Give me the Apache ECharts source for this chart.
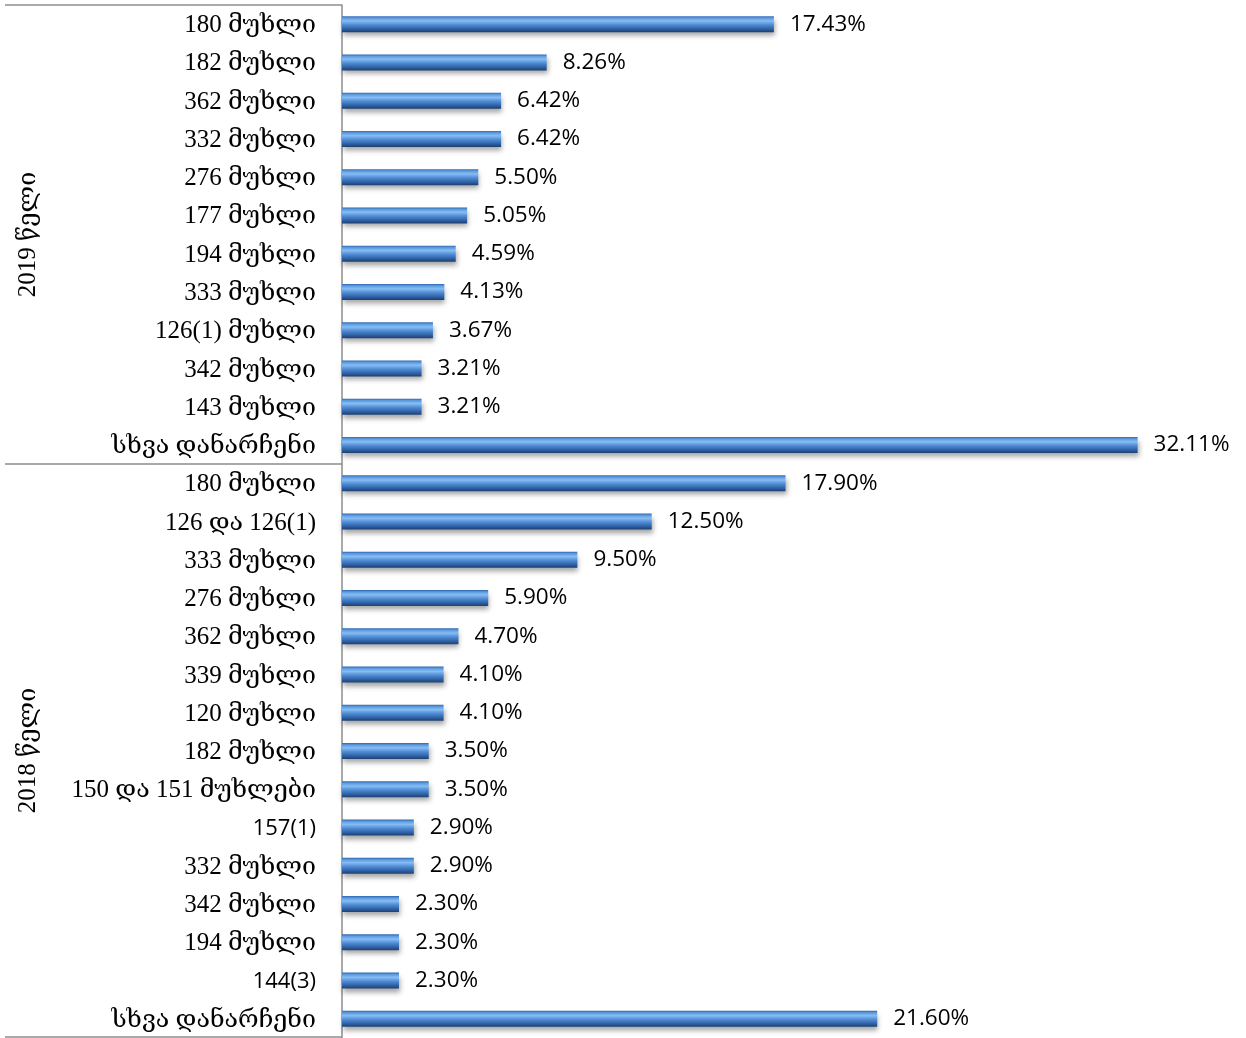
<!DOCTYPE html>
<html>
<head>
<meta charset="utf-8">
<script src="https://cdn.jsdelivr.net/npm/echarts@6/dist/echarts.min.js"></script>
<style>html,body{margin:0;padding:0;background:#fff}#c{width:1246px;height:1038px}</style>
</head>
<body>
<div id="c"></div>
<script>
const groupNames = ['2019 წელი', '2018 წელი'];
const labels2019 = ['180 მუხლი','182 მუხლი','362 მუხლი','332 მუხლი','276 მუხლი','177 მუხლი','194 მუხლი','333 მუხლი','126(1) მუხლი','342 მუხლი','143 მუხლი','სხვა დანარჩენი'];
const values2019 = [17.43, 8.26, 6.42, 6.42, 5.50, 5.05, 4.59, 4.13, 3.67, 3.21, 3.21, 32.11];
const labels2018 = ['180 მუხლი','126 და 126(1)','333 მუხლი','276 მუხლი','362 მუხლი','339 მუხლი','120 მუხლი','182 მუხლი','150 და 151 მუხლები','157(1)','332 მუხლი','342 მუხლი','194 მუხლი','144(3)','სხვა დანარჩენი'];
const values2018 = [17.90, 12.50, 9.50, 5.90, 4.70, 4.10, 4.10, 3.50, 3.50, 2.90, 2.90, 2.30, 2.30, 2.30, 21.60];

const allLabels = labels2019.concat(labels2018);
const allValues = values2019.concat(values2018);
const keys = allLabels.map((l, i) => i + '|' + l);

const serif = "'Liberation Serif', 'DejaVu Serif', serif";
const sans = "'Open Sans', 'Noto Sans', sans-serif";

const chart = echarts.init(document.getElementById('c'));
const barColor = new echarts.graphic.LinearGradient(0, 0, 0, 1, [
  {offset: 0, color: '#2f67b0'},
  {offset: 0.12, color: '#5d9be0'},
  {offset: 0.3, color: '#86bdf3'},
  {offset: 0.55, color: '#4f8ad3'},
  {offset: 0.8, color: '#2f62a6'},
  {offset: 1, color: '#1d3f70'}
]);
chart.setOption({
  animation: false,
  grid: {left: 342, right: 12, top: 5, height: 1034, containLabel: false},
  xAxis: {type: 'value', min: 0, max: 36, show: false},
  yAxis: {
    type: 'category', inverse: true, data: keys,
    axisLine: {show: true, lineStyle: {color: '#8c8c8c', width: 1.5}},
    axisTick: {show: false},
    axisLabel: {
      margin: 26, interval: 0,
      formatter: v => {
        const t = v.slice(v.indexOf('|') + 1);
        return /[\u10A0-\u10FF]/.test(t) ? '{s|' + t + '}' : '{n|' + t + '}';
      },
      rich: {
        s: {fontFamily: serif, fontSize: 25, color: '#000', padding: [3, 0, 0, 0]},
        n: {fontFamily: sans, fontSize: 22, color: '#000', padding: [3, 0, 0, 0]}
      }
    }
  },
  series: [{
    type: 'bar', data: allValues, barWidth: 16,
    itemStyle: {color: barColor, shadowColor: 'rgba(0,0,0,0.35)', shadowBlur: 5, shadowOffsetY: 4, shadowOffsetX: 1},
    label: {show: true, position: 'right', distance: 16, fontFamily: sans, fontSize: 22.5, color: '#000',
      padding: [3, 0, 0, 0],
      formatter: p => p.value.toFixed(2) + '%'}
  }]
});

function yAt(i) { return chart.convertToPixel({yAxisIndex: 0}, keys[i]); }
const band = yAt(1) - yAt(0);
const topY = yAt(0) - band / 2;
const sepY = yAt(labels2019.length) - band / 2;
const botY = Math.min(yAt(keys.length - 1) + band / 2, 1037);
const axisX = chart.convertToPixel({xAxisIndex: 0}, 0);
const lineStyle = {stroke: '#8c8c8c', lineWidth: 1.5};
chart.setOption({
  graphic: [
    {type: 'line', shape: {x1: 5, y1: topY, x2: axisX, y2: topY}, style: lineStyle},
    {type: 'line', shape: {x1: 5, y1: sepY, x2: axisX, y2: sepY}, style: lineStyle},
    {type: 'line', shape: {x1: 5, y1: botY, x2: axisX, y2: botY}, style: lineStyle},
    {type: 'text', x: 28, y: (topY + sepY) / 2, rotation: Math.PI / 2,
      style: {text: groupNames[0], fontFamily: serif, fontSize: 25, fill: '#000', align: 'center', verticalAlign: 'middle'}},
    {type: 'text', x: 28, y: (sepY + botY) / 2, rotation: Math.PI / 2,
      style: {text: groupNames[1], fontFamily: serif, fontSize: 25, fill: '#000', align: 'center', verticalAlign: 'middle'}}
  ]
});
</script>
</body>
</html>
